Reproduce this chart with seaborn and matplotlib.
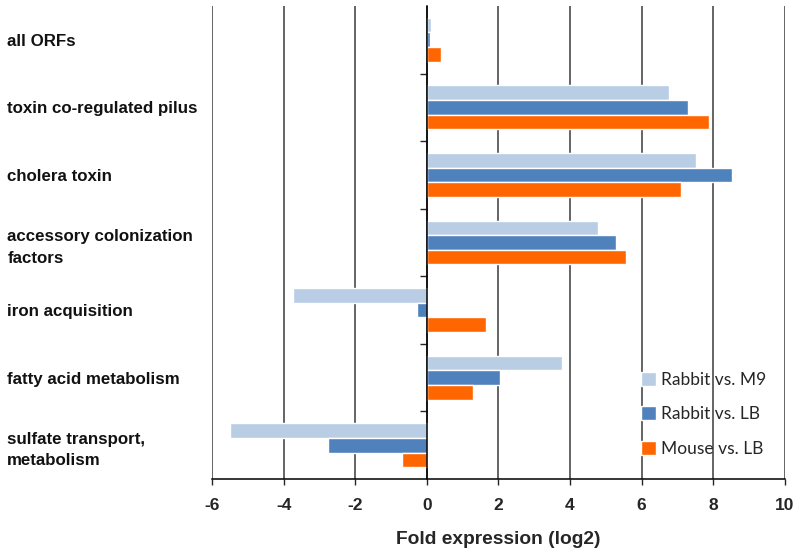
import numpy as np
import pandas as pd
import seaborn as sns
from matplotlib import pyplot as plt
from matplotlib.ticker import FixedLocator

####################################
# data
####################################
categories = [
    "all ORFs",
    "toxin co-regulated pilus",
    "cholera toxin",
    "accessory colonization\nfactors",
    "iron acquisition",
    "fatty acid metabolism",
    "sulfate transport,\nmetabolism",
]
series = ["Rabbit vs. M9", "Rabbit vs. LB", "Mouse vs. LB"]
rabbit_m9 = [0.11, 6.77, 7.53, 4.78, -3.75, 3.77, -5.51]
rabbit_lb = [0.08, 7.31, 8.52, 5.29, -0.27, 2.04, -2.76]
mouse_lb = [0.39, 7.88, 7.11, 5.56, 1.66, 1.30, -0.70]
colors = ["#B9CDE5", "#4F81BD", "#FF6600"]

df = pd.DataFrame(
    {
        "category": categories * 3,
        "series": np.repeat(series, len(categories)),
        "value": rabbit_m9 + rabbit_lb + mouse_lb,
    }
)

####################################
# plot
####################################
sns.set_style("white")
plt.rcParams["font.family"] = ["Liberation Sans", "DejaVu Sans"]
plt.rcParams["axes.unicode_minus"] = False

fig = plt.figure(figsize=(8, 5.58), dpi=100)
ax = fig.add_axes([0.265, 0.1416, 0.716, 0.8477])

sns.barplot(
    data=df,
    x="value",
    y="category",
    hue="series",
    orient="h",
    palette=colors,
    saturation=1,
    width=0.65,
    ax=ax,
)

ax.set_xlim(-6, 10)
ax.set_xticks(range(-6, 11, 2))
ax.set_axisbelow(True)
ax.xaxis.grid(True, color="#3a3a3a", lw=1.1)
ax.yaxis.grid(False)

for s in ["top", "right"]:
    ax.spines[s].set_visible(False)
ax.spines["left"].set_position(("data", 0))
ax.spines["left"].set_color("black")
ax.spines["left"].set_linewidth(1.1)
ax.spines["bottom"].set_color("black")
ax.spines["bottom"].set_linewidth(1.1)

# y: labels at far left, ticks between categories on the zero line
ax.tick_params(axis="y", which="major", length=0, pad=302)
ax.yaxis.set_minor_locator(FixedLocator(np.arange(0.5, 6, 1)))
ax.tick_params(axis="y", which="minor", length=5, width=1, direction="out", left=True)
for t in ax.get_yticklabels():
    t.set_ha("left")
    t.set_multialignment("left")
    t.set_fontsize(12.2)
    t.set_fontweight("bold")
    t.set_color("#111111")
    t.set_linespacing(1.55)
ax.set_ylabel("")

ax.tick_params(axis="x", length=4.5, width=1, direction="out", bottom=True, pad=9)
for t in ax.get_xticklabels():
    t.set_fontsize(12.5)
    t.set_fontweight("bold")
ax.set_xlabel("Fold expression (log2)", fontsize=13.8, fontweight="bold", labelpad=13)

handles, labels = ax.get_legend_handles_labels()
ax.legend(
    handles,
    labels,
    loc="upper left",
    bbox_to_anchor=(0.801, 0.333),
    bbox_transform=fig.transFigure,
    frameon=False,
    borderpad=0,
    borderaxespad=0,
    handlelength=0.85,
    handleheight=0.85,
    handletextpad=0.3,
    labelspacing=1.05,
    prop={"family": ["Lato", "DejaVu Sans"], "size": 12.5},
)

fig.savefig("out.png", dpi=100)
